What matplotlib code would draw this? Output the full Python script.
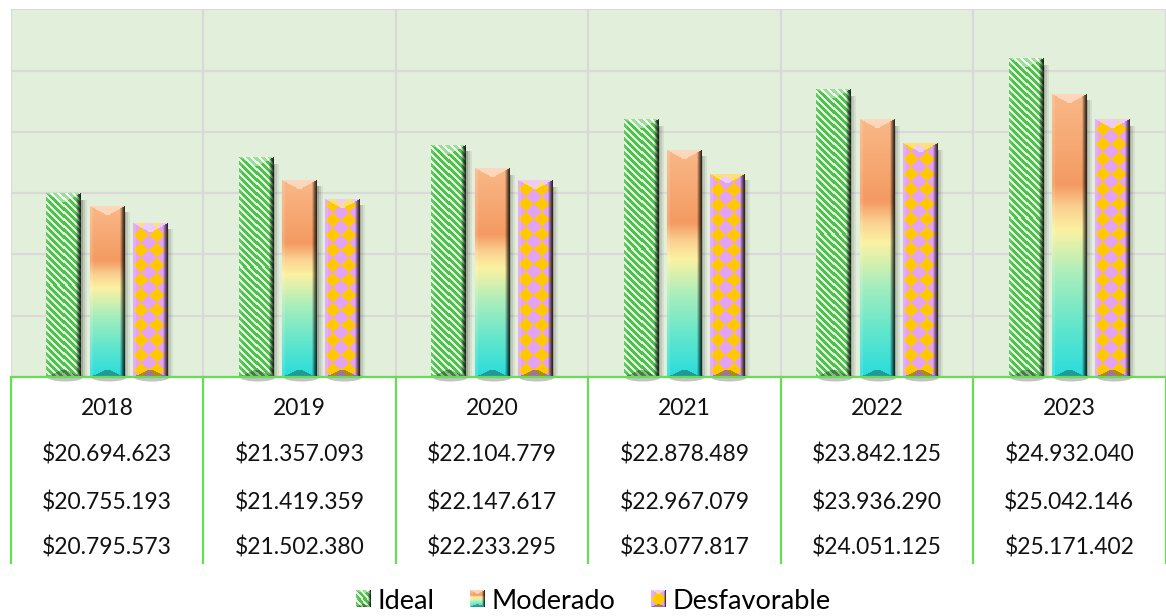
import numpy as np
import matplotlib.pyplot as plt
from matplotlib.patches import Rectangle, Ellipse
from matplotlib.legend_handler import HandlerBase
from matplotlib.image import BboxImage
from matplotlib.transforms import Bbox, TransformedBbox, blended_transform_factory

plt.rcParams['font.family'] = ['Lato', 'DejaVu Sans']

years = ['2018', '2019', '2020', '2021', '2022', '2023']
series = ['Ideal', 'Moderado', 'Desfavorable']

ideal = [2.99, 3.58, 3.78, 4.20, 4.69, 5.19]
moderado = [2.79, 3.21, 3.40, 3.70, 4.20, 4.61]
desfavorable = [2.51, 2.90, 3.20, 3.31, 3.81, 4.20]

# data table under the chart
row1 = ['$20.694.623', '$21.357.093', '$22.104.779', '$22.878.489', '$23.842.125', '$24.932.040']
row2 = ['$20.755.193', '$21.419.359', '$22.147.617', '$22.967.079', '$23.936.290', '$25.042.146']
row3 = ['$20.795.573', '$21.502.380', '$22.233.295', '$23.077.817', '$24.051.125', '$25.171.402']

green_line = '#66DD55'
grid_col = '#D9D9D9'


def hex2rgb(h):
    h = h.lstrip('#')
    return np.array([int(h[i:i + 2], 16) / 255 for i in (0, 2, 4)])


def stripes(H, W):
    yy, xx = np.mgrid[0:H, 0:W]
    img = np.empty((H, W, 3))
    m = ((xx - yy) % 7) < 4
    img[m] = hex2rgb('#4CC24C')
    img[~m] = hex2rgb('#E2F4DC')
    return img


def gradient(H, W):
    stops = [(0.0, '#28DCDC'), (0.18, '#62E6CC'), (0.36, '#A8EEBC'), (0.52, '#FBF2A2'),
             (0.60, '#FAD090'), (0.68, '#F49A62'), (0.80, '#F6A670'), (1.0, '#F9B888')]
    pos = np.array([s[0] for s in stops])
    cols = np.array([hex2rgb(s[1]) for s in stops])
    t = 1 - (np.arange(H) + 0.5) / H
    col = np.stack([np.interp(t, pos, cols[:, k]) for k in range(3)], axis=1)
    return np.repeat(col[:, None, :], W, axis=1)


def diamonds(H, W, a=15):
    yy, xx = np.mgrid[0:H, 0:W]
    yy = yy - H  # anchor at the bottom
    u = np.floor((xx + yy + a / 2) / a)
    v = np.floor((xx - yy + a / 2) / a)
    m = ((u + v) % 2) == 0
    img = np.empty((H, W, 3))
    img[m] = hex2rgb('#E3A2F4')
    img[~m] = hex2rgb('#FFC800')
    return img


def bevel(img, edge=5):
    H, W = img.shape[:2]
    yy, xx = np.mgrid[0:H, 0:W]
    dl = xx + 0.5
    dr = W - xx - 0.5
    dt = yy + 0.5
    db = H - yy - 0.5
    side = np.minimum(dl, dr)
    top = dt < side * 0.55
    bot = (db < side * 0.45) & ~top
    right = (dr < edge) & ~top & ~bot
    left = (dl < 3) & ~top & ~bot
    out = img.copy()
    out[top] = img[top] + (1 - img[top]) * 0.45
    out[bot] = img[bot] * 0.70
    f = 0.18 + 0.82 * (dr / edge) ** 1.3
    out[right] = img[right] * f[right][:, None]
    out[left] = img[left] + (1 - img[left]) * 0.12
    return np.clip(out, 0, 1)


makers = [stripes, gradient, diamonds]

fig = plt.figure(figsize=(11.66, 6.16), dpi=100)
ax = fig.add_axes([10.7 / 1166, 1 - 377 / 616, 1 - 10.7 / 1166 - 0.0004, (377 - 9.3) / 616])
ax.set_facecolor('#E2EFDA')
ax.set_xlim(-0.5, len(years) - 0.5)
ax.set_ylim(0, 6)
ax.set_yticks(range(0, 7))
ax.set_xticks(np.arange(-0.5, len(years), 1.0))
ax.tick_params(length=0, labelleft=False, labelbottom=False)
ax.grid(True, color=grid_col, lw=1.6, zorder=0)
ax.set_axisbelow(True)
for s in ax.spines.values():
    s.set_visible(False)

x = np.arange(len(years))
width = 0.178
offsets = [-0.226, 0.0, 0.223]
px_x = ax.transData.transform((1, 0))[0] - ax.transData.transform((0, 0))[0]
px_y = ax.transData.transform((0, 1))[1] - ax.transData.transform((0, 0))[1]

for vals, off, maker in zip([ideal, moderado, desfavorable], offsets, makers):
    bars = ax.bar(x + off, vals, width, color='none', edgecolor='none', zorder=3)
    for b in bars:
        bx, bw, bh = b.get_x(), b.get_width(), b.get_height()
        # soft shadow on the right and under the base
        for k, al in zip([2, 4, 6], [0.16, 0.10, 0.06]):
            ax.add_patch(Rectangle((bx + k / px_x, 0), bw, bh - 6 / px_y,
                                   color='black', alpha=al, lw=0, zorder=2))
        ax.add_patch(Ellipse((bx + bw / 2 + 2 / px_x, 0), bw * 1.05, 9 / px_y,
                             color='#555555', alpha=0.35, lw=0, zorder=2, clip_on=False))
        W = int(round(bw * px_x))
        H = int(round(bh * px_y))
        img = bevel(maker(H, W))
        ax.imshow(img, extent=(bx, bx + bw, 0, bh), aspect='auto',
                  interpolation='nearest', zorder=4)

ax.set_xlim(-0.5, len(years) - 0.5)
ax.set_ylim(0, 6)

# data table
tr = blended_transform_factory(ax.transData, ax.transAxes)
ax.plot([-0.5, len(years) - 0.5], [0, 0], color=green_line, lw=1.6, transform=tr,
        clip_on=False, zorder=5)
for xb in np.arange(-0.5, len(years), 1.0):
    ax.plot([xb, xb], [0, -0.505], color=green_line, lw=1.6, transform=tr,
            clip_on=False, zorder=5)
for i in range(len(years)):
    for txt, yy in zip([years[i], row1[i], row2[i], row3[i]], [-0.087, -0.212, -0.340, -0.465]):
        ax.text(i, yy, txt, transform=tr, ha='center', va='center', fontsize=16.5,
                color='#111111')


# legend with small bevelled pattern icons
class IconHandler(HandlerBase):
    def __init__(self, img):
        super().__init__()
        self.img = img

    def create_artists(self, legend, orig_handle, xdescent, ydescent, width, height,
                       fontsize, trans):
        bb = Bbox.from_bounds(-xdescent, -ydescent, width, height)
        im = BboxImage(TransformedBbox(bb, trans), interpolation='nearest')
        im.set_data(self.img)
        return [im]


icons = [bevel(stripes(16, 16), edge=3), bevel(gradient(16, 16), edge=3),
         bevel(diamonds(16, 16, a=16), edge=2)]
handles = [Rectangle((0, 0), 1, 1) for _ in series]
fig.legend(handles, series, loc='center', bbox_to_anchor=(0.509, 0.024), ncol=3,
           frameon=False, fontsize=19.5, handlelength=0.55, handleheight=0.55,
           handletextpad=0.25, columnspacing=1.3,
           handler_map={h: IconHandler(im) for h, im in zip(handles, icons)})

fig.savefig('out.png', dpi=100)
